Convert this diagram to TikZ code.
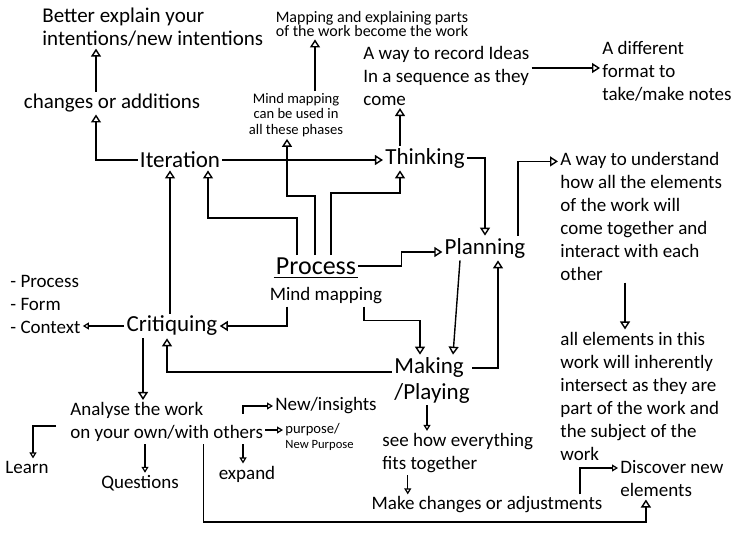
\documentclass[tikz,border=0pt]{standalone}
\usepackage{fontspec}
\setmainfont{Carlito}
\usetikzlibrary{arrows.meta, positioning}
\tikzset{
  stage/.style={font=\fontsize{11.5}{13}\selectfont, inner sep=1pt},
  procnode/.style={font=\fontsize{13}{14}\selectfont, inner sep=1pt},
  note/.style={font=\fontsize{9.5}{11.5}\selectfont, align=left, inner sep=1pt},
  bignote/.style={font=\fontsize{10.5}{11.5}\selectfont, align=left, inner sep=1pt},
  smallnote/.style={font=\fontsize{7.3}{7.6}\selectfont, align=center, inner sep=1pt},
  mapnote/.style={font=\fontsize{8}{7.4}\selectfont, align=center, inner sep=1pt},
  arrow/.style={-{Triangle[open, length=4pt, width=5pt]}, line width=0.7pt},
  smallarrow/.style={-{Triangle[open, length=3pt, width=3.5pt]}, line width=0.6pt},
}
\begin{document}
\begin{tikzpicture}[x=0.5pt, y=-0.5pt]
\useasboundingbox (0,0) rectangle (753,540);

% Main phases
\node[stage] (iteration) at (180,160) {Iteration};
\node[stage] (thinking) at (425,158) {Thinking};
\node[stage] (planning) at (485,248) {Planning};
\node[procnode] (process) at (316,266) {Process};
\node[note] (mindmap) at (326,296) {Mind mapping};
\node[stage] (critiquing) at (172,326) {Critiquing};
\node[stage, align=left] (making) at (432,380) {Making\\/Playing};

% Notes round Iteration
\node[bignote, anchor=west] (better) at (40,27) {Better explain your\\intentions/new intentions};
\node[bignote] (changes) at (112,103) {changes or additions};
\node[smallnote] (mindnote) at (296,115) {Mind mapping\\can be used in\\all these phases};
\node[mapnote] (mapnote) at (372,24) {Mapping and explaining parts\\of the work become the work};

% Notes round Thinking and Planning
\node[note, anchor=west] (record) at (361,76) {A way to record Ideas\\In a sequence as they\\come};
\node[note, anchor=west] (different) at (600,71) {A different\\format to\\take/make notes};
\node[note, anchor=west] (understand) at (558,216) {A way to understand\\how all the elements\\of the work will\\come together and\\interact with each\\other};
\node[note, anchor=west] (allelem) at (558,396) {all elements in this\\work will inherently\\intersect as they are\\part of the work and\\the subject of the\\work};

% Notes round Critiquing
\node[note, anchor=west] (list) at (8,304) {- Process\\- Form\\- Context};
\node[note, anchor=west] (analyse) at (68,422) {Analyse the work\\on your own/with others};
\node[note] (learn) at (27,467) {Learn};
\node[note] (questions) at (140,483) {Questions};
\node[note] (expand) at (247,474) {expand};
\node[note, anchor=west] (newins) at (273,406) {New/insights};
\node[smallnote, anchor=west, align=left] (purpose) at (283,437) {purpose/\\\fontsize{6.3}{7}\selectfont New Purpose};

% Notes round Making
\node[note, anchor=west] (seehow) at (380,453) {see how everything\\fits together};
\node[note] (makechanges) at (487,505) {Make changes or adjustments};
\node[note, anchor=west] (discover) at (618,479) {Discover new\\elements};

% Underline
\draw[line width=0.6pt] ([yshift=-0.5pt]process.south west) -- ([yshift=-0.5pt]process.south east);

% Iteration
\draw[arrow] ([xshift=-8pt]changes.north) -- ([xshift=-8pt]changes.north |- better.south);
\draw[arrow] (iteration.west) -| ([xshift=-8pt]changes.south);
\draw[arrow] (iteration.east) -- (iteration.east -| thinking.west);
\draw[arrow] ([xshift=9.5pt]mindnote.north) -- ([xshift=9.5pt]mindnote.north |- mapnote.south);

% Process
\draw[arrow] ([xshift=-9.5pt]process.north) -- ++(0,-37) -| ([xshift=14pt]iteration.south);
\draw[arrow] ([xshift=-0.5pt]process.north) -- ++(0,-59) -| ([xshift=-4.5pt]mindnote.south);
\draw[arrow] ([xshift=7.5pt]process.north) -- ++(0,-62) -| ([xshift=-12.5pt]thinking.south);
\draw[arrow] (process.east) -- ++(43,0) |- ([yshift=-2pt]planning.west);
\draw[arrow] ([xshift=-19.5pt]mindmap.south) |- (critiquing.east);
\draw[arrow] ([xshift=19pt]mindmap.south) -- ++(0,14) -| ([xshift=-6pt]making.north);

% Thinking and Planning
\draw[arrow] ([xshift=-12.5pt]thinking.north) -- ([xshift=-12.5pt]thinking.north |- record.south);
\draw[arrow] ([yshift=4pt]record.east) -- ([yshift=4pt]record.east -| different.west);
\draw[arrow] (thinking.east) -| (planning.north);
\draw[arrow] ([xshift=16.5pt]planning.north) |- ([yshift=-6pt]understand.north west);
\draw[arrow] ([xshift=33.5pt]understand.south west) -- ([xshift=33.5pt]understand.south west |- allelem.north);
\draw[arrow] ([xshift=-12.5pt]planning.south) -- ([xshift=10.5pt]making.north);

% Making
\draw[arrow] ([yshift=6pt]making.east) -| ([xshift=6.5pt]planning.south);
\draw[arrow] ([yshift=4pt]making.west) -| ([xshift=-2.5pt]critiquing.south);
\draw[smallarrow] ([xshift=-2.5pt]making.south) -- ([xshift=-2.5pt]making.south |- seehow.north);
\draw[smallarrow] ([xshift=-25pt]seehow.south) -- ([xshift=-25pt]seehow.south |- makechanges.north);
\draw[smallarrow] ([xshift=46.5pt]makechanges.north) |- ([yshift=5.5pt]discover.west);

% Critiquing
\draw[arrow] ([xshift=-1pt]critiquing.north) -- ([xshift=-1pt]critiquing.north |- iteration.south);
\draw[smallarrow] (critiquing.west) -- (critiquing.west -| list.east);
\draw[arrow] ([xshift=-14.5pt]critiquing.south) -- ([xshift=-14.5pt]critiquing.south |- analyse.north);
\draw[smallarrow] ([xshift=-6pt, yshift=-2pt]analyse.west) -| ([xshift=3pt]learn.north);
\draw[smallarrow] ([xshift=2.5pt]questions.north |- analyse.south) -- ([xshift=2.5pt]questions.north);
\draw[smallarrow] ([xshift=-2pt]expand.north |- analyse.south) -- ([xshift=-2pt]expand.north);
\draw[smallarrow] ([xshift=-2pt, yshift=-7pt]expand.north |- analyse.north) |- (newins.west);
\draw[smallarrow] ([yshift=-4pt]analyse.east) -- ([yshift=-4pt]analyse.east -| purpose.west);
\draw[arrow] ([xshift=18.5pt]analyse.south) -- ++(0,78) -| ([xshift=-13pt]discover.south);

\end{tikzpicture}
\end{document}
